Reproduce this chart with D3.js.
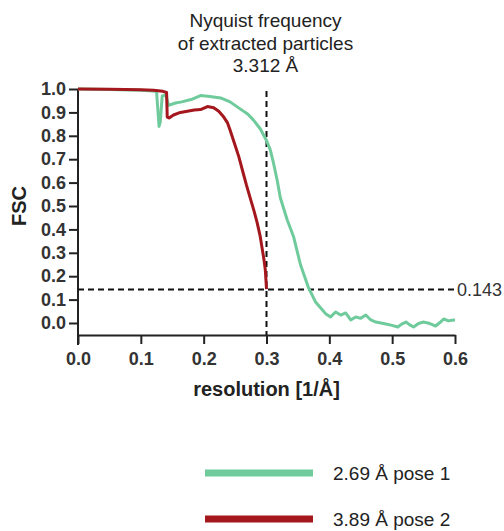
<!DOCTYPE html>
<html>
<head>
<meta charset="utf-8">
<script src="https://cdn.jsdelivr.net/npm/d3@7"></script>
<style>
  body { margin: 0; background: #fff; }
  svg text { font-family: "Liberation Sans", Arial, sans-serif; }
</style>
</head>
<body>
<svg id="fsc" width="504" height="531"></svg>
<script>
// pose 1 (green)
const pose1Res = [0, 0.05, 0.10, 0.125, 0.129, 0.131, 0.134, 0.140, 0.144, 0.155, 0.165, 0.18, 0.195, 0.21, 0.227, 0.242, 0.258, 0.27, 0.279, 0.29, 0.30, 0.306, 0.311, 0.317, 0.322, 0.333, 0.343, 0.354, 0.367, 0.378, 0.386, 0.394, 0.402, 0.41, 0.418, 0.426, 0.434, 0.442, 0.45, 0.458, 0.466, 0.474, 0.482, 0.49, 0.498, 0.509, 0.515, 0.522, 0.528, 0.534, 0.542, 0.549, 0.557, 0.563, 0.569, 0.576, 0.582, 0.59, 0.595, 0.6];
const pose1Fsc = [1.0, 0.998, 0.995, 0.99, 0.84, 0.86, 0.97, 0.975, 0.93, 0.94, 0.945, 0.955, 0.972, 0.968, 0.962, 0.945, 0.915, 0.893, 0.868, 0.83, 0.78, 0.74, 0.685, 0.61, 0.535, 0.44, 0.37, 0.25, 0.15, 0.09, 0.065, 0.04, 0.026, 0.047, 0.034, 0.043, 0.013, 0.026, 0.02, 0.034, 0.013, 0.004, 0.0, -0.004, -0.009, -0.017, -0.005, 0.004, -0.008, -0.017, -0.002, 0.004, 0.0, -0.006, -0.013, 0.002, 0.017, 0.009, 0.012, 0.013];
// pose 2 (red)
const pose2Res = [0, 0.05, 0.10, 0.12, 0.135, 0.141, 0.142, 0.145, 0.152, 0.163, 0.174, 0.185, 0.195, 0.206, 0.216, 0.224, 0.232, 0.238, 0.242, 0.25, 0.256, 0.263, 0.268, 0.274, 0.28, 0.285, 0.29, 0.293, 0.296, 0.298, 0.299, 0.3];
const pose2Fsc = [1.0, 0.999, 0.997, 0.995, 0.99, 0.985, 0.88, 0.876, 0.889, 0.9, 0.905, 0.91, 0.912, 0.925, 0.92, 0.905, 0.88, 0.855, 0.825, 0.76, 0.71, 0.64, 0.59, 0.535, 0.48, 0.43, 0.37, 0.32, 0.27, 0.23, 0.19, 0.145];

const xTicks = [0, 0.1, 0.2, 0.3, 0.4, 0.5, 0.6];
const yTicks = [0, 0.1, 0.2, 0.3, 0.4, 0.5, 0.6, 0.7, 0.8, 0.9, 1.0];
const threshold = 0.143;
const nyquist = 0.3;
const titleLines = ["Nyquist frequency", "of extracted particles", "3.312 Å"];
const legendLabels = ["2.69 Å pose 1", "3.89 Å pose 2"];

const green = "#6fcb9c", red = "#a3171d";

const svg = d3.select("#fsc");
const x = d3.scaleLinear().domain([0, 0.6]).range([78, 455]);
const y = d3.scaleLinear().domain([0, 1]).range([323, 89]);

// title over the nyquist line
svg.append("g").selectAll("text")
  .data(titleLines)
  .enter().append("text")
    .attr("x", x(nyquist) - 1)
    .attr("y", function(d, i) { return 27 + i * 22.5; })
    .attr("text-anchor", "middle")
    .attr("font-size", 19)
    .attr("fill", "#222")
    .text(function(d) { return d; });

// axes
const xAxis = svg.append("g")
    .attr("transform", "translate(0,335)")
    .call(d3.axisBottom(x).tickValues(xTicks).tickFormat(d3.format(".1f")).tickSize(9).tickSizeOuter(0).tickPadding(8));
const yAxis = svg.append("g")
    .attr("transform", "translate(78,0)")
    .call(d3.axisLeft(y).tickValues(yTicks).tickFormat(d3.format(".1f")).tickSize(9).tickSizeOuter(0).tickPadding(3));
yAxis.select(".domain").remove();
yAxis.append("line")
    .attr("x1", 0).attr("x2", 0)
    .attr("y1", y(1)).attr("y2", 345)
    .attr("stroke", "#222").attr("stroke-width", 2);
[xAxis, yAxis].forEach(function(a) {
  a.selectAll("path, line").attr("stroke", "#222").attr("stroke-width", 2);
  a.selectAll("text")
    .attr("font-size", 18)
    .attr("font-weight", "bold")
    .attr("fill", "#333");
});

svg.append("text")
    .attr("transform", "translate(26," + y(0.5) + ") rotate(-90)")
    .attr("text-anchor", "middle")
    .attr("font-size", 20)
    .attr("font-weight", "bold")
    .attr("fill", "#222")
    .text("FSC");
svg.append("text")
    .attr("x", x(0.3))
    .attr("y", 396)
    .attr("text-anchor", "middle")
    .attr("font-size", 20)
    .attr("font-weight", "bold")
    .attr("fill", "#222")
    .text("resolution [1/Å]");

// reference lines
svg.append("line")
    .attr("x1", x(nyquist)).attr("x2", x(nyquist))
    .attr("y1", 91).attr("y2", 335)
    .attr("stroke", "#111").attr("stroke-width", 2)
    .attr("stroke-dasharray", "6,4");
svg.append("line")
    .attr("x1", x(0)).attr("x2", x(0.6))
    .attr("y1", y(threshold)).attr("y2", y(threshold))
    .attr("stroke", "#111").attr("stroke-width", 2)
    .attr("stroke-dasharray", "6,4");
svg.append("text")
    .attr("x", x(0.6) + 2)
    .attr("y", y(threshold))
    .attr("dy", "0.35em")
    .attr("font-size", 18)
    .attr("fill", "#333")
    .text(threshold);

// curves
const line = d3.line()
  .x(function(d) { return x(d[0]); })
  .y(function(d) { return y(d[1]); });

svg.append("path")
    .datum(d3.zip(pose1Res, pose1Fsc))
    .attr("fill", "none")
    .attr("stroke", green)
    .attr("stroke-width", 3)
    .attr("stroke-linejoin", "round")
    .attr("d", line);
svg.append("path")
    .datum(d3.zip(pose2Res, pose2Fsc))
    .attr("fill", "none")
    .attr("stroke", red)
    .attr("stroke-width", 3)
    .attr("stroke-linejoin", "round")
    .attr("d", line);

// legend
const legend = svg.append("g").selectAll("g")
  .data(legendLabels)
  .enter().append("g")
    .attr("transform", function(d, i) { return "translate(205," + (473 + i * 46) + ")"; });
legend.append("line")
    .attr("x1", 0).attr("x2", 108)
    .attr("stroke", function(d, i) { return i === 0 ? green : red; })
    .attr("stroke-width", 7);
legend.append("text")
    .attr("x", 128)
    .attr("dy", "0.35em")
    .attr("font-size", 19)
    .attr("fill", "#222")
    .text(function(d) { return d; });
</script>
</body>
</html>
